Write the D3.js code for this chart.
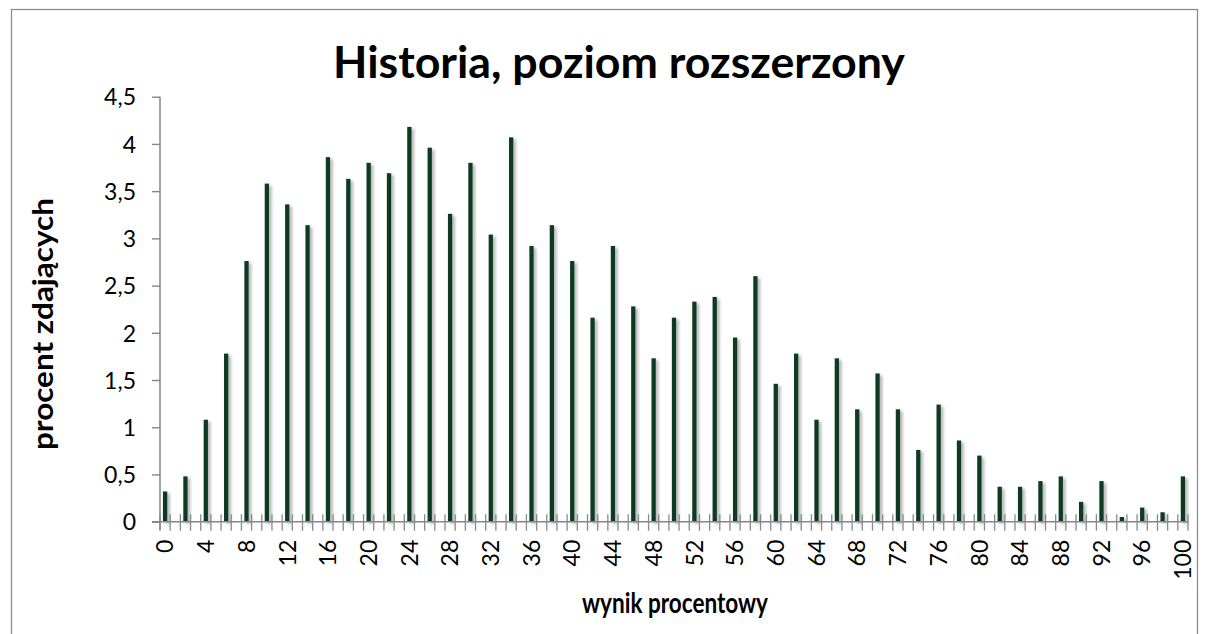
<!DOCTYPE html>
<html>
<head>
<meta charset="utf-8">
<script src="https://cdn.jsdelivr.net/npm/d3@7"></script>
<style>
  html, body { margin: 0; padding: 0; background: #fff; }
  svg { display: block; font-family: Lato, "Open Sans", "DejaVu Sans", sans-serif; }
</style>
</head>
<body>
<svg id="chart" width="1209" height="634"></svg>
<script>
// ---- data ----
const titleText = "Historia, poziom rozszerzony";
const xTitle = "wynik procentowy";
const yTitle = "procent zdających";
// score categories on the axis (0..100 percent)
const categories = d3.range(0, 101);
// scores that have a bar and their values (percent of candidates)
const scores = [0, 2, 4, 6, 8, 10, 12, 14, 16, 18, 20, 22, 24, 26, 28, 30, 32, 34, 36, 38, 40,
                42, 44, 46, 48, 50, 52, 54, 56, 58, 60, 62, 64, 66, 68, 70, 72, 74, 76, 78, 80,
                82, 84, 86, 88, 90, 92, 94, 96, 98, 100];
const values = [0.32, 0.48, 1.08, 1.78, 2.76, 3.58, 3.36, 3.14, 3.86, 3.63, 3.80, 3.69, 4.18, 3.96,
                3.26, 3.80, 3.04, 4.07, 2.92, 3.14, 2.76, 2.16, 2.92, 2.28, 1.73, 2.16, 2.33, 2.38,
                1.95, 2.60, 1.46, 1.78, 1.08, 1.73, 1.19, 1.57, 1.19, 0.76, 1.24, 0.86, 0.70,
                0.37, 0.37, 0.43, 0.48, 0.21, 0.43, 0.05, 0.15, 0.10, 0.48];
const yTicks = [0, 0.5, 1, 1.5, 2, 2.5, 3, 3.5, 4, 4.5];
const xTickLabels = [0, 4, 8, 12, 16, 20, 24, 28, 32, 36, 40, 44, 48, 52, 56, 60, 64, 68, 72, 76, 80, 84, 88, 92, 96, 100];

// ---- layout ----
const svg = d3.select("#chart");
const L = 160, R = 1188, T = 96.7, B = 521.7;
const gray = "#868686";
const barColor = "#0e3b24";

const x = d3.scaleBand().domain(categories).range([L, R]).padding(0);
const y = d3.scaleLinear().domain([0, 4.5]).range([B, T]);

// shadow filters
const defs = svg.append("defs");
const f = defs.append("filter").attr("id", "shadow").attr("x", "-100%").attr("y", "-10%").attr("width", "300%").attr("height", "130%");
f.append("feDropShadow").attr("dx", 2.5).attr("dy", 2).attr("stdDeviation", 1.6).attr("flood-color", "#000").attr("flood-opacity", 0.3);
const gf = defs.append("filter").attr("id", "gshadow").attr("x", "-5%").attr("y", "-200%").attr("width", "110%").attr("height", "500%");
gf.append("feDropShadow").attr("dx", 0).attr("dy", 1.5).attr("stdDeviation", 0.8).attr("flood-color", "#000").attr("flood-opacity", 0.18);

// outer border
svg.append("rect").attr("x", 11.5).attr("y", 9.5).attr("width", 1186).attr("height", 640)
  .attr("fill", "#fff").attr("stroke", "#8e8e8e").attr("stroke-width", 1.3);

// gridlines
svg.append("g").selectAll("line").data(yTicks.filter(d => d > 0)).join("line")
  .attr("x1", L).attr("x2", R)
  .attr("y1", d => y(d)).attr("y2", d => y(d))
  .attr("stroke", gray).attr("stroke-width", 1.4).attr("filter", "url(#gshadow)");

// bars
const bw = x.bandwidth() * 0.42;
svg.append("g").selectAll("rect").data(scores.map((s, i) => ({ s, v: values[i] }))).join("rect")
  .attr("x", d => x(d.s) + (x.bandwidth() - bw) / 2)
  .attr("y", d => y(d.v))
  .attr("width", bw)
  .attr("height", d => y(0) - y(d.v))
  .attr("fill", barColor)
  .attr("filter", "url(#shadow)");

// y axis
const yAxis = svg.append("g").attr("transform", `translate(${L},0)`)
  .call(d3.axisLeft(y).tickValues(yTicks).tickSize(8).tickPadding(16)
    .tickFormat(d => String(d).replace(".", ",")));
yAxis.attr("font-size", null).attr("font-family", null);
yAxis.select(".domain").attr("stroke", gray).attr("stroke-width", 1.5).attr("d", `M0,${T}V${B + 8}`);
yAxis.selectAll(".tick line").attr("stroke", gray).attr("stroke-width", 1.4);
yAxis.selectAll(".tick text").attr("font-size", 23).attr("fill", "#000").attr("dy", "0.36em");

// x axis line
svg.append("line").attr("x1", L - 8).attr("x2", R).attr("y1", B).attr("y2", B)
  .attr("stroke", gray).attr("stroke-width", 1.5);
// x tick marks at category boundaries (crossing the axis)
const boundaries = categories.map(c => x(c)).concat([R]);
svg.append("g").selectAll("line").data(boundaries).join("line")
  .attr("x1", d => d).attr("x2", d => d)
  .attr("y1", B - 7.5).attr("y2", B + 9)
  .attr("stroke", "#8a8a8a").attr("stroke-width", 1.3);

// x tick labels
const xAxis = svg.append("g").attr("transform", `translate(0,${B})`)
  .call(d3.axisBottom(x).tickValues(xTickLabels).tickSize(0).tickPadding(0));
xAxis.attr("font-size", null).attr("font-family", null);
xAxis.select(".domain").remove();
xAxis.selectAll(".tick text")
  .attr("font-size", 23).attr("fill", "#000")
  .attr("text-anchor", "end")
  .attr("transform", "rotate(-90)")
  .attr("x", -18).attr("y", 0).attr("dy", "0.36em");

// title
const title = svg.append("text").attr("x", 619).attr("y", 78)
  .attr("text-anchor", "middle").attr("font-weight", "bold").attr("font-size", 36)
  .attr("fill", "#000").text(titleText);
function fitWidth(sel, target) {
  const w = sel.node().getComputedTextLength();
  const fs = +sel.attr("font-size");
  sel.attr("font-size", fs * target / w);
}
fitWidth(title, 572);

// x axis title
svg.append("text").attr("x", 675).attr("y", 613)
  .attr("text-anchor", "middle").attr("font-weight", "bold").attr("font-size", 29)
  .attr("textLength", 186).attr("lengthAdjust", "spacingAndGlyphs")
  .attr("fill", "#000").text(xTitle);

// y axis title
svg.append("text").attr("transform", "translate(53,324) rotate(-90)")
  .attr("text-anchor", "middle").attr("font-weight", "bold").attr("font-size", 29)
  .attr("textLength", 252).attr("lengthAdjust", "spacingAndGlyphs")
  .attr("fill", "#000").text(yTitle);
</script>
</body>
</html>
